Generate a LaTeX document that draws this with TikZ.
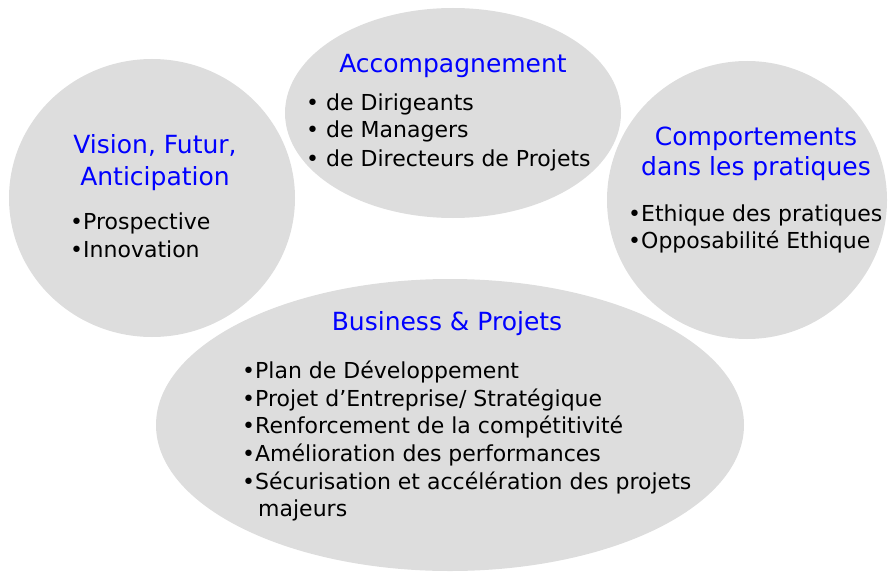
\documentclass[tikz,border=0pt]{standalone}
\usepackage{fontspec}
\setmainfont{DejaVu Sans}
\definecolor{bubble}{HTML}{DDDDDD}
\definecolor{ttl}{HTML}{0000FF}
\tikzset{
  bub/.style={fill=bubble, draw=none},
  ttlt/.style={text=ttl, font=\fontsize{25}{30}\selectfont, inner sep=0pt, anchor=base},
  itm/.style={text=black, font=\fontsize{22}{26}\selectfont, inner sep=0pt, anchor=base west},
}
\begin{document}
\begin{tikzpicture}[x=1pt,y=-1pt]
\useasboundingbox (0,0) rectangle (888,578);
% bubbles
\fill[bub] (152,198) ellipse [x radius=143, y radius=139];
\fill[bub] (453,113) ellipse [x radius=168, y radius=105];
\fill[bub] (747,200) ellipse [x radius=140, y radius=139];
\fill[bub] (450,425) ellipse [x radius=294, y radius=146];
% left
\node[ttlt] (t1a) at (155,153) {Vision, Futur,};
\node[ttlt] (t1b) at (155,185) {Anticipation};
\node[itm] (l1) at (70,229) {•Prospective};
\node[itm] (l2) at (70,257) {•Innovation};
% top
\node[ttlt] (t2) at (453,72) {Accompagnement};
\node[itm] (m1) at (306,110) {• de Dirigeants};
\node[itm] (m2) at (306,137) {• de Managers};
\node[itm] (m3) at (306,166) {• de Directeurs de Projets};
% right
\node[ttlt] (t3a) at (756,145) {Comportements};
\node[ttlt] (t3b) at (756,175) {dans les pratiques};
\node[itm] (r1) at (628,221) {•Ethique des pratiques};
\node[itm] (r2) at (628,248) {•Opposabilité Ethique};
% bottom
\node[ttlt] (t4) at (447,330) {Business \& Projets};
\node[itm] (b1) at (242,378) {•Plan de Développement};
\node[itm] (b2) at (242,406) {•Projet d’Entreprise/ Stratégique};
\node[itm] (b3) at (242,433) {•Renforcement de la compétitivité};
\node[itm] (b4) at (242,461) {•Amélioration des performances};
\node[itm] (b5) at (242,489) {•Sécurisation et accélération des projets};
\node[itm] (b6) at (258,516) {majeurs};
\end{tikzpicture}
\end{document}
